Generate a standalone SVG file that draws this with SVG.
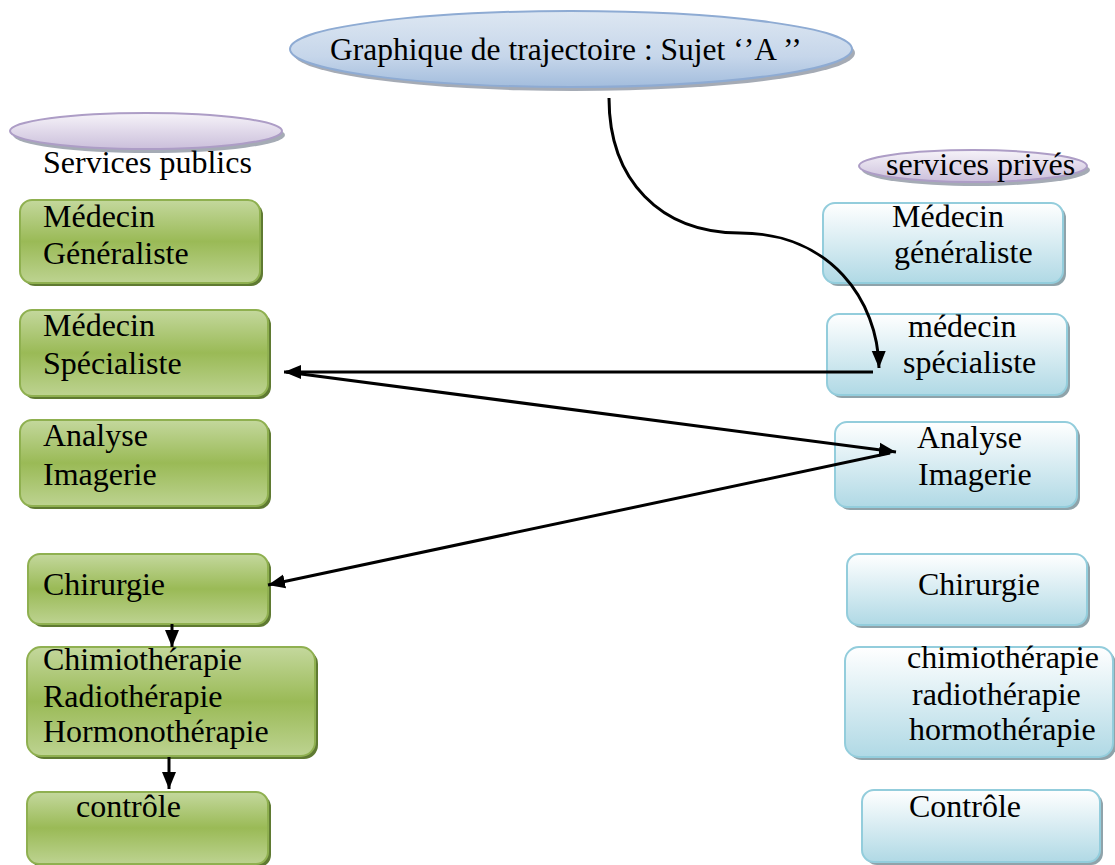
<svg xmlns="http://www.w3.org/2000/svg" width="1115" height="865" viewBox="0 0 1115 865">
<defs>
<linearGradient id="gGreen" x1="0" y1="0" x2="0" y2="1">
<stop offset="0" stop-color="#c4d89d"/>
<stop offset="0.5" stop-color="#9aba56"/>
<stop offset="1" stop-color="#bdd391"/>
</linearGradient>
<linearGradient id="gBlue" x1="0" y1="0" x2="0" y2="1">
<stop offset="0" stop-color="#ffffff"/>
<stop offset="1" stop-color="#b0d9e5"/>
</linearGradient>
<linearGradient id="gTitle" x1="0" y1="0" x2="0" y2="1">
<stop offset="0" stop-color="#dde7f2"/>
<stop offset="0.6" stop-color="#c6d6ea"/>
<stop offset="1" stop-color="#a3bddd"/>
</linearGradient>
<linearGradient id="gPurple" x1="0" y1="0" x2="0" y2="1">
<stop offset="0" stop-color="#f6f3f9"/>
<stop offset="1" stop-color="#cbbfdb"/>
</linearGradient>
<marker id="arr" markerUnits="userSpaceOnUse" markerWidth="18" markerHeight="16" refX="17" refY="8" orient="auto">
<path d="M0,1 L17,8 L0,15 Z" fill="#000"/>
</marker>
</defs>
<style>
text{font-family:"Liberation Serif","Times New Roman",serif;font-size:32px;fill:#000;}
.green{fill:url(#gGreen);stroke:#8fb050;stroke-width:2;}
.gshadow{fill:#5f7a32;}
.blue{fill:url(#gBlue);stroke:#93cddc;stroke-width:2;}
.bshadow{fill:#8fa3aa;}
.title{fill:url(#gTitle);stroke:#8eabd3;stroke-width:2;}
.purple{fill:url(#gPurple);stroke:#ad9dc6;stroke-width:2;}
.eshadow{fill:#8e96a3;opacity:0.8;}
.conn{fill:none;stroke:#000;stroke-width:3;marker-end:url(#arr);}
</style>
<rect width="1115" height="865" fill="#ffffff"/>

<g id="title">
<ellipse class="eshadow" cx="574" cy="53" rx="281" ry="38"/>
<ellipse class="title" cx="571" cy="49" rx="281" ry="38"/>
<text x="330" y="60" style="font-size:31.5px">Graphique de trajectoire : Sujet ‘’A ’’</text>
</g>

<g id="publics">
<ellipse class="eshadow" cx="149" cy="135" rx="136" ry="18"/>
<ellipse class="purple" cx="146" cy="131" rx="136" ry="18"/>
<text x="43" y="173">Services publics</text>
</g>

<g id="prives">
<ellipse class="eshadow" cx="976" cy="170" rx="114" ry="16"/>
<ellipse class="purple" cx="973" cy="166" rx="114" ry="16"/>
<text x="886" y="175">services privés</text>
</g>

<g id="pub-generaliste">
<rect class="gshadow" x="23" y="203" width="240" height="83" rx="12"/>
<rect class="green" x="20" y="200" width="240" height="83" rx="12"/>
<text x="43" y="227">Médecin</text>
<text x="43" y="264">Généraliste</text>
</g>

<g id="pub-specialiste">
<rect class="gshadow" x="23" y="313" width="248" height="86" rx="12"/>
<rect class="green" x="20" y="310" width="248" height="86" rx="12"/>
<text x="43" y="336">Médecin</text>
<text x="43" y="374">Spécialiste</text>
</g>

<g id="pub-analyse">
<rect class="gshadow" x="23" y="423" width="248" height="86" rx="12"/>
<rect class="green" x="20" y="420" width="248" height="86" rx="12"/>
<text x="43" y="446">Analyse</text>
<text x="43" y="485">Imagerie</text>
</g>

<g id="pub-chirurgie">
<rect class="gshadow" x="31" y="557" width="240" height="70" rx="12"/>
<rect class="green" x="28" y="554" width="240" height="70" rx="12"/>
<text x="43" y="595">Chirurgie</text>
</g>

<g id="pub-therapies">
<rect class="gshadow" x="30" y="650" width="288" height="109" rx="14"/>
<rect class="green" x="27" y="647" width="288" height="109" rx="14"/>
<text x="43" y="670">Chimiothérapie</text>
<text x="43" y="707">Radiothérapie</text>
<text x="43" y="742">Hormonothérapie</text>
</g>

<g id="pub-controle">
<rect class="gshadow" x="30" y="795" width="241" height="72" rx="12"/>
<rect class="green" x="27" y="792" width="241" height="72" rx="12"/>
<text x="76" y="817">contrôle</text>
</g>

<g id="priv-generaliste">
<rect class="bshadow" x="826" y="206" width="240" height="80" rx="12"/>
<rect class="blue" x="823" y="203" width="240" height="80" rx="12"/>
<text x="892" y="227">Médecin</text>
<text x="894" y="263">généraliste</text>
</g>

<g id="priv-specialiste">
<rect class="bshadow" x="830" y="317" width="240" height="81" rx="12"/>
<rect class="blue" x="827" y="314" width="240" height="81" rx="12"/>
<text x="908" y="337">médecin</text>
<text x="903" y="373">spécialiste</text>
</g>

<g id="priv-analyse">
<rect class="bshadow" x="838" y="425" width="242" height="85" rx="12"/>
<rect class="blue" x="835" y="422" width="242" height="85" rx="12"/>
<text x="917" y="448">Analyse</text>
<text x="918" y="485">Imagerie</text>
</g>

<g id="priv-chirurgie">
<rect class="bshadow" x="850" y="557" width="240" height="71" rx="12"/>
<rect class="blue" x="847" y="554" width="240" height="71" rx="12"/>
<text x="918" y="595">Chirurgie</text>
</g>

<g id="priv-therapies">
<rect class="bshadow" x="848" y="650" width="268" height="110" rx="14"/>
<rect class="blue" x="845" y="647" width="268" height="110" rx="14"/>
<text x="907" y="668">chimiothérapie</text>
<text x="912" y="705">radiothérapie</text>
<text x="909" y="740">hormothérapie</text>
</g>

<g id="priv-controle">
<rect class="bshadow" x="865" y="793" width="238" height="72" rx="12"/>
<rect class="blue" x="862" y="790" width="238" height="72" rx="12"/>
<text x="909" y="817">Contrôle</text>
</g>

<g id="connectors">
<path class="conn" d="M609,98 C609,180 660,233 740,233 C830,233 878,300 879,368"/>
<path class="conn" d="M873,372 L284,372"/>
<path class="conn" d="M286,372 L896,452"/>
<path class="conn" d="M890,453 L268,585"/>
<path class="conn" d="M172,624 L172,647"/>
<path class="conn" d="M169,757 L169,789"/>
</g>
</svg>
